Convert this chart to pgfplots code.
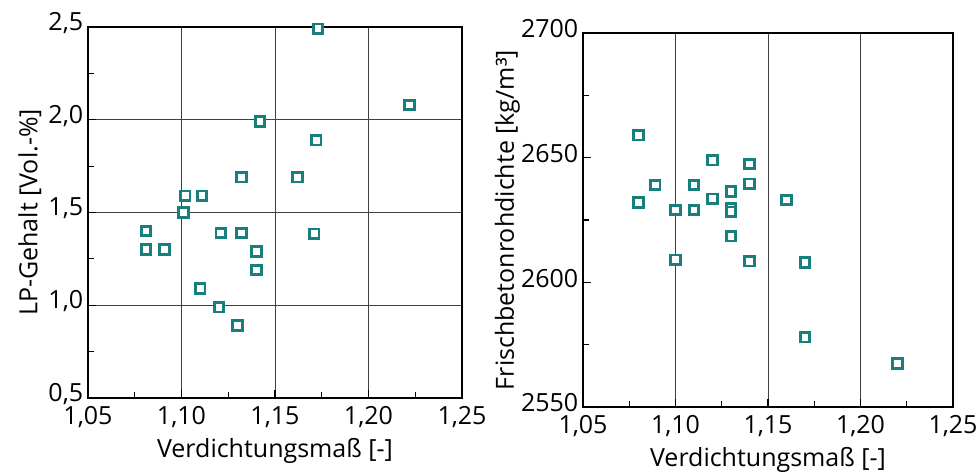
\documentclass[border=0pt]{standalone}
\usepackage{pgfplots}
\pgfplotsset{compat=1.18}
\usepackage{fontspec}
\setmainfont{Open Sans}
\definecolor{mk}{HTML}{17807D}
\begin{document}
\begin{tikzpicture}
\useasboundingbox (-44pt,-37pt) rectangle (444.5pt,199pt);
\pgfplotsset{
  every axis/.append style={
    scale only axis,
    font=\fontsize{12.5}{14}\selectfont,
    tick style={black, line width=0.6pt},
    major tick length=4pt, minor tick length=3pt,
    tick align=inside,
    axis line style={line width=1pt},
    grid style={black!75, line width=0.5pt},
    xmin=1.05, xmax=1.25,
    xtick={1.05,1.10,...,1.25},
    minor xtick={1.075,1.125,1.175,1.225},
    xticklabel style={inner sep=1pt, yshift=-3.2pt, /pgf/number format/fixed, /pgf/number format/fixed zerofill, /pgf/number format/precision=2, /pgf/number format/use comma, /pgf/number format/assume math mode=true},
    xlabel={Verdichtungsmaß [-]},
    xlabel style={yshift=-0.8pt},
    yticklabel style={inner sep=1pt, xshift=-1.2pt, yshift=2pt},
    xtick pos=bottom, ytick pos=left,
  },
}
\begin{axis}[
  at={(0,0)}, anchor=south west,
  width=187pt, height=185.5pt,
  ymin=0.5, ymax=2.5,
  ytick={0.5,1.0,...,2.5},
  minor ytick={0.75,1.25,1.75,2.25},
  yticklabel style={/pgf/number format/fixed, /pgf/number format/fixed zerofill, /pgf/number format/precision=1, /pgf/number format/use comma, /pgf/number format/assume math mode=true},
  ylabel={LP-Gehalt [Vol.-\%]},
  ylabel style={yshift=-1pt},
  xmajorgrids, ymajorgrids,
  clip=false,
]
\addplot[only marks, mark=square*, mark size=2.4pt, mark options={draw=mk, fill=white, line width=1.4pt}] coordinates {
(1.173,2.49) (1.222,2.08) (1.142,1.99) (1.172,1.89) (1.132,1.69) (1.162,1.69)
(1.102,1.59) (1.111,1.59) (1.101,1.50) (1.081,1.40) (1.121,1.39) (1.132,1.39)
(1.171,1.385) (1.081,1.30) (1.091,1.30) (1.140,1.29) (1.140,1.19) (1.110,1.09)
(1.120,0.99) (1.130,0.89)
};
\end{axis}
\begin{axis}[
  at={(247.5pt,-4.5pt)}, anchor=south west,
  width=185pt, height=187pt,
  ymin=2550, ymax=2700,
  ytick={2550,2600,2650,2700},
  minor ytick={2575,2625,2675},
  yticklabel style={/pgf/number format/fixed, /pgf/number format/1000 sep={}, /pgf/number format/assume math mode=true},
  ylabel={Frischbetonrohdichte [kg/m³]},
  ylabel style={yshift=-4pt},
  xmajorgrids,
]
\addplot[only marks, mark=square*, mark size=2.4pt, mark options={draw=mk, fill=white, line width=1.4pt}] coordinates {
(1.080,2659) (1.120,2649) (1.140,2647.5) (1.089,2639) (1.110,2639) (1.140,2639.5)
(1.130,2636.5) (1.080,2632) (1.120,2633.5) (1.160,2633) (1.100,2629) (1.110,2629)
(1.130,2629.8) (1.130,2628.3) (1.130,2618.5) (1.100,2609) (1.140,2608.5) (1.170,2608)
(1.170,2578) (1.220,2567.5)
};
\end{axis}
\end{tikzpicture}
\end{document}
